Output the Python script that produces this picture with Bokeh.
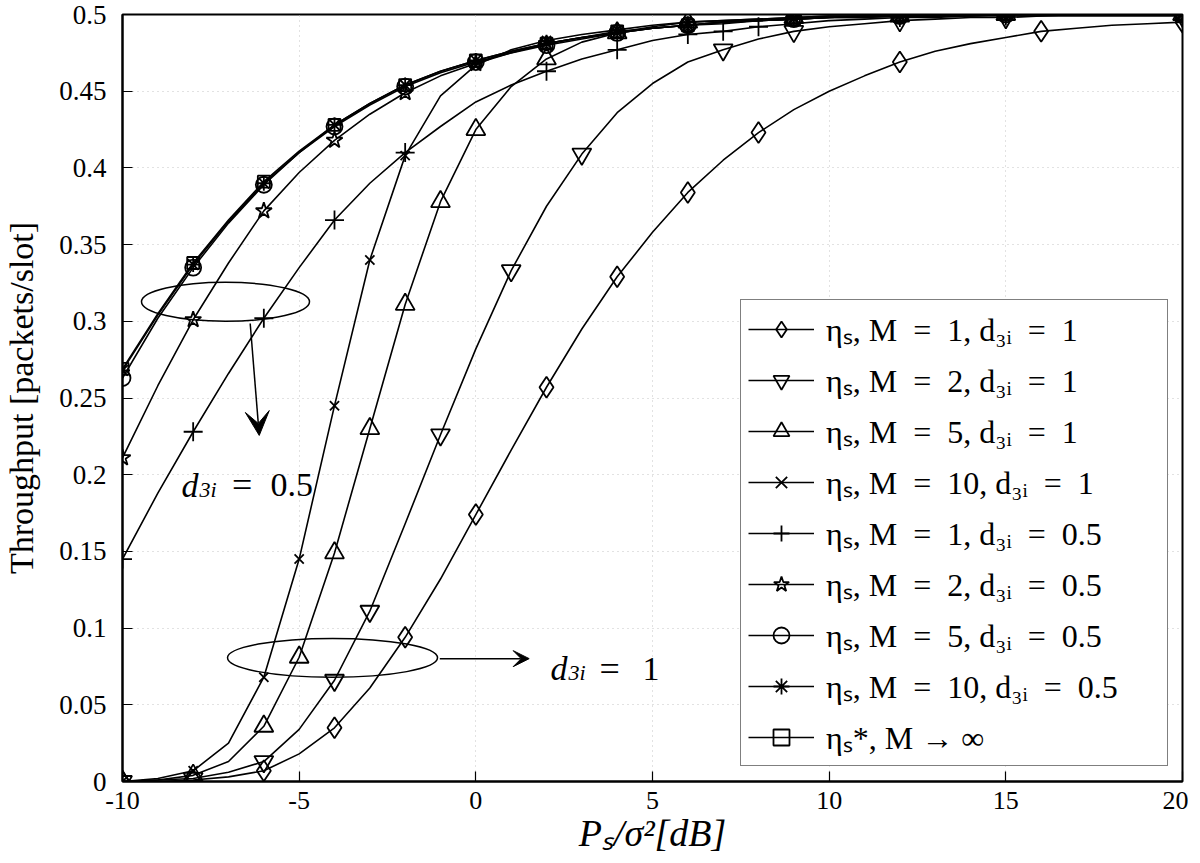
from bokeh.plotting import figure
from bokeh.models import (Range1d, FixedTicker, Legend, LegendItem, Arrow,
                          VeeHead, Label)
from bokeh.embed import file_html
from bokeh.resources import INLINE

# ---------------- data ----------------
x_db = list(range(-10, 21))

eta_m1_d1 = [0.000, 0.000, 0.001, 0.003, 0.007, 0.018, 0.035, 0.061, 0.094, 0.132,
             0.174, 0.216, 0.257, 0.295, 0.329, 0.358, 0.384, 0.405, 0.423, 0.438,
             0.450, 0.460, 0.469, 0.476, 0.481, 0.485, 0.489, 0.491, 0.493, 0.494, 0.495]
eta_m2_d1 = [0.000, 0.001, 0.002, 0.006, 0.013, 0.034, 0.066, 0.111, 0.168, 0.226,
             0.282, 0.333, 0.375, 0.409, 0.436, 0.455, 0.469, 0.477, 0.484, 0.489,
             0.492, 0.494, 0.496, 0.497, 0.498, 0.498, 0.499, 0.499, 0.499, 0.499, 0.499]
eta_m5_d1 = [0.000, 0.001, 0.004, 0.013, 0.036, 0.081, 0.149, 0.230, 0.311, 0.378,
             0.425, 0.453, 0.471, 0.482, 0.488, 0.492, 0.495, 0.496, 0.497, 0.498,
             0.499, 0.499, 0.499, 0.499, 0.500, 0.500, 0.500, 0.500, 0.500, 0.500, 0.500]
eta_m10_d1 = [0.000, 0.002, 0.007, 0.025, 0.068, 0.145, 0.245, 0.340, 0.408, 0.447,
              0.467, 0.477, 0.483, 0.487, 0.490, 0.493, 0.495, 0.496, 0.497, 0.498,
              0.499, 0.499, 0.499, 0.500, 0.500, 0.500, 0.500, 0.500, 0.500, 0.500, 0.500]
eta_m1_d05 = [0.145, 0.188, 0.228, 0.266, 0.302, 0.335, 0.366, 0.390, 0.410, 0.427,
              0.443, 0.454, 0.463, 0.471, 0.477, 0.483, 0.487, 0.489, 0.492, 0.494,
              0.496, 0.497, 0.498, 0.498, 0.499, 0.499, 0.499, 0.500, 0.500, 0.500, 0.500]
eta_m2_d05 = [0.211, 0.258, 0.301, 0.338, 0.372, 0.397, 0.418, 0.435, 0.449, 0.460,
              0.468, 0.475, 0.481, 0.485, 0.488, 0.491, 0.493, 0.495, 0.496, 0.497,
              0.498, 0.498, 0.499, 0.499, 0.499, 0.500, 0.500, 0.500, 0.500, 0.500, 0.500]
eta_m5_d05 = [0.263, 0.302, 0.335, 0.364, 0.389, 0.410, 0.427, 0.441, 0.453, 0.462,
              0.469, 0.475, 0.480, 0.484, 0.488, 0.491, 0.493, 0.494, 0.496, 0.497,
              0.498, 0.498, 0.499, 0.499, 0.499, 0.500, 0.500, 0.500, 0.500, 0.500, 0.500]
eta_m10_d05 = [0.268, 0.304, 0.337, 0.365, 0.390, 0.410, 0.428, 0.442, 0.454, 0.463,
               0.470, 0.476, 0.481, 0.485, 0.488, 0.491, 0.493, 0.495, 0.496, 0.497,
               0.498, 0.499, 0.499, 0.499, 0.500, 0.500, 0.500, 0.500, 0.500, 0.500, 0.500]
eta_inf = [0.269, 0.305, 0.338, 0.366, 0.391, 0.411, 0.428, 0.442, 0.454, 0.463,
           0.470, 0.476, 0.481, 0.485, 0.489, 0.491, 0.493, 0.495, 0.496, 0.497,
           0.498, 0.499, 0.499, 0.499, 0.500, 0.500, 0.500, 0.500, 0.500, 0.500, 0.500]

# x positions (dB) where markers are drawn, per series
mk_m1_d1 = [-10, -8, -6, -4, -2, 0, 2, 4, 6, 8, 12, 16, 20]
mk_m2_d1 = [-10, -8, -6, -4, -3, -1, 1, 3, 7, 9, 12, 15, 20]
mk_m5_d1 = [-10, -8, -6, -5, -4, -3, -2, -1, 0, 2, 4, 6, 9, 12, 15, 20]
mk_m10_d1 = [-10, -8, -6, -5, -4, -3, -2, 0, 2, 4, 6, 9, 12, 15, 20]
mk_m1_d05 = [-10, -8, -6, -4, -2, 2, 4, 6, 7, 8, 12, 15, 20]
mk_common = [-10, -8, -6, -4, -2, 0, 2, 4, 6, 9, 12, 15, 20]

EQ = "\u2002=\u2002"
labels = ["ηₛ, M" + EQ + "1, d₃ᵢ" + EQ + "1",
          "ηₛ, M" + EQ + "2, d₃ᵢ" + EQ + "1",
          "ηₛ, M" + EQ + "5, d₃ᵢ" + EQ + "1",
          "ηₛ, M" + EQ + "10, d₃ᵢ" + EQ + "1",
          "ηₛ, M" + EQ + "1, d₃ᵢ" + EQ + "0.5",
          "ηₛ, M" + EQ + "2, d₃ᵢ" + EQ + "0.5",
          "ηₛ, M" + EQ + "5, d₃ᵢ" + EQ + "0.5",
          "ηₛ, M" + EQ + "10, d₃ᵢ" + EQ + "0.5",
          "ηₛ*, M \u2192 ∞"]

x_ticks = [-10, -5, 0, 5, 10, 15, 20]
x_tick_labels = ["-10", "-5", "0", "5", "10", "15", "20"]
y_ticks = [0, 0.05, 0.1, 0.15, 0.2, 0.25, 0.3, 0.35, 0.4, 0.45, 0.5]
y_tick_labels = ["0", "0.05", "0.1", "0.15", "0.2", "0.25", "0.3", "0.35", "0.4", "0.45", "0.5"]

series = [
    (eta_m1_d1, mk_m1_d1, "diamond", 21),
    (eta_m2_d1, mk_m2_d1, "inverted_triangle", 19),
    (eta_m5_d1, mk_m5_d1, "triangle", 19),
    (eta_m10_d1, mk_m10_d1, "x", 13),
    (eta_m1_d05, mk_m1_d05, "cross", 19),
    (eta_m2_d05, mk_common, "star", 17),
    (eta_m5_d05, mk_common, "circle", 16),
    (eta_m10_d05, mk_common, "asterisk", 15),
    (eta_inf, mk_common, "square", 12),
]

# ---------------- figure ----------------
FONT = "Liberation Serif"
p = figure(frame_width=1060, frame_height=767,
           x_range=Range1d(-10, 20), y_range=Range1d(0, 0.5),
           output_backend="svg", toolbar_location=None,
           min_border_left=120, min_border_right=6, min_border_top=14,
           min_border_bottom=79)
p.background_fill_color = "white"
p.border_fill_color = "white"
p.outline_line_color = "black"
p.outline_line_width = 2

p.xaxis.ticker = FixedTicker(ticks=x_ticks)
p.yaxis.ticker = FixedTicker(ticks=y_ticks)
p.xaxis.major_label_overrides = {t: s for t, s in zip(x_ticks, x_tick_labels)}
p.yaxis.major_label_overrides = {t: s for t, s in zip(y_ticks, y_tick_labels)}
for ax in (p.xaxis[0], p.yaxis[0]):
    ax.major_tick_in = 10
    ax.major_tick_out = 0
    ax.minor_tick_line_color = None
    ax.axis_line_width = 2
    ax.major_tick_line_width = 1.2
    ax.major_label_text_font = FONT
    ax.major_label_text_color = "black"
    ax.axis_label_text_font = FONT
    ax.axis_label_text_color = "black"
p.xaxis.major_label_text_font_size = "26px"
p.yaxis.major_label_text_font_size = "27px"
p.xaxis.major_label_standoff = 10
p.yaxis.major_label_standoff = 16
p.xaxis.axis_label = "Pₛ/σ²[dB]"
p.xaxis.axis_label_text_font_style = "italic"
p.xaxis.axis_label_text_font_size = "38px"
p.xaxis.axis_label_standoff = 0
p.yaxis.axis_label = "Throughput [packets/slot]"
p.yaxis.axis_label_text_font_style = "normal"
p.yaxis.axis_label_text_font_size = "34px"
p.yaxis.axis_label_standoff = 16

for g in (p.xgrid[0], p.ygrid[0]):
    g.grid_line_color = "#c4c4c4"
    g.grid_line_dash = "1 4"
    g.grid_line_width = 1
p.xgrid.ticker = FixedTicker(ticks=x_ticks)
p.ygrid.ticker = FixedTicker(ticks=y_ticks)

items = []
for (vals, mk, marker, size), lab in zip(series, labels):
    lr = p.line(x_db, vals, line_color="black", line_width=1.6)
    mx = list(mk)
    my = [vals[x_db.index(v)] for v in mk]
    sr = p.scatter(mx, my, marker=marker, size=size, line_color="black",
                   line_width=1.8, fill_alpha=0)
    items.append(LegendItem(label=lab, renderers=[lr, sr]))

legend = Legend(items=items, location=(618, 15))
legend.border_line_color = "black"
legend.border_line_width = 1.5
legend.background_fill_color = "white"
legend.background_fill_alpha = 1
legend.padding = 7
legend.spacing = 8
legend.margin = 0
legend.glyph_width = 66
legend.glyph_height = 40
legend.label_height = 40
legend.label_width = 334
legend.label_standoff = 12
legend.label_text_font = FONT
legend.label_text_font_size = "32px"
legend.label_text_color = "black"
p.add_layout(legend, "center")

# ---------------- annotations ----------------
p.ellipse(x=[-7.085], y=[0.3127], width=4.755, height=0.0254,
          fill_alpha=0, line_color="black", line_width=1.5)
p.ellipse(x=[-4.056], y=[0.0806], width=5.944, height=0.0254,
          fill_alpha=0, line_color="black", line_width=1.5)

p.add_layout(Arrow(end=VeeHead(size=24, fill_color="black", line_color="black"),
                   x_start=-6.386, y_start=0.2986, x_end=-6.13, y_end=0.2256,
                   line_color="black", line_width=1.5))
p.add_layout(Arrow(end=VeeHead(size=16, fill_color="black", line_color="black"),
                   x_start=-1.02, y_start=0.0801, x_end=1.51, y_end=0.0801,
                   line_color="black", line_width=1.5))


def add_text(x, y, text, size, style="normal"):
    p.add_layout(Label(x=x, y=y, text=text, text_font=FONT, text_font_size=size,
                       text_font_style=style, text_color="black",
                       text_baseline="alphabetic", text_align="left"))


# d_{3i} = 0.5
add_text(-8.33, 0.1931, "d", "34px", "italic")
add_text(-7.82, 0.1905, "3i", "22px", "italic")
add_text(-6.90, 0.1931, "=", "36px")
add_text(-5.81, 0.1931, "0.5", "34px")
# d_{3i} = 1
add_text(2.11, 0.0735, "d", "34px", "italic")
add_text(2.62, 0.0709, "3i", "22px", "italic")
add_text(3.50, 0.0735, "=", "36px")
add_text(4.72, 0.0735, "1", "34px")

open("out.html", "w").write(file_html(p, INLINE))
